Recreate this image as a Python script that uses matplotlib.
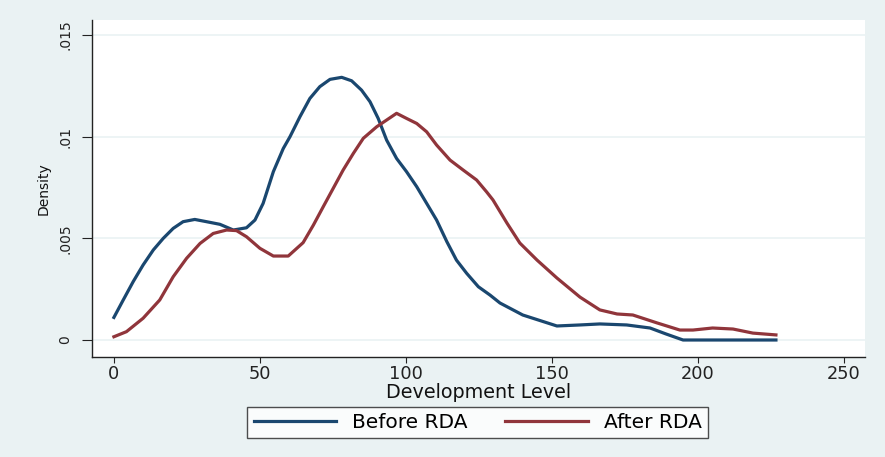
import numpy as np
import matplotlib
matplotlib.use("Agg")
import matplotlib.pyplot as plt

# kernel density curves
before_x = [0, 3.2, 6.6, 10.0, 13.5, 16.9, 20.3, 23.7, 27.7, 31.7, 36.3, 40.9, 45.4,
            48.3, 51.1, 54.6, 58, 60.3, 63.7, 67.1, 70.5, 74, 78, 81.4, 84.8, 87.7,
            90.5, 93.4, 96.8, 100.2, 103.7, 107.1, 110.5, 114, 117.3, 120.8, 124.8,
            128.8, 132.2, 140, 151.7, 159.6, 166.4, 175.6, 183.6, 189, 194.9, 226.7]
before_y = [.00111, .00197, .00287, .00369, .00443, .005, .00549, .00582, .00593,
            .00582, .00569, .00541, .00552, .0059, .00672, .00828, .00942, .01,
            .01098, .01188, .01246, .01282, .01292, .01275, .01229, .01172, .0109,
            .00983, .00893, .00828, .00754, .00672, .0059, .00484, .00393, .00328,
            .00262, .00221, .00182, .00123, .00069, .00074, .00079, .00074, .00059,
            .0003, .0, .0]

after_x = [0, 4.3, 10, 15.7, 20.3, 24.9, 29.5, 34, 38.6, 42, 45.4, 50, 54.6, 59.7,
           64.8, 68.3, 71.7, 75.1, 78.5, 82, 85.4, 90, 93.4, 96.8, 100.2, 103.7,
           107.1, 110.5, 115.1, 119.6, 124.2, 127.6, 129.8, 134.6, 139, 144.9,
           151.7, 159.6, 166.4, 172.3, 177.7, 186, 193.8, 198.3, 205, 212, 218.8,
           226.7]
after_y = [.00016, .00041, .00107, .00197, .00311, .00402, .00475, .00524, .00541,
           .00538, .00508, .00451, .00413, .00413, .00479, .00565, .00656, .00746,
           .00836, .00918, .00992, .01049, .01082, .01115, .0109, .01065, .01024,
           .00959, .00885, .00836, .00787, .00729, .00689, .00575, .00477, .00393,
           .00305, .00211, .00148, .00128, .00123, .00084, .00049, .00049, .00059,
           .00054, .00034, .00025]

x_ticks = [0, 50, 100, 150, 200, 250]
y_ticks = [0, 0.005, 0.01, 0.015]
y_tick_labels = ["0", ".005", ".01", ".015"]

bg = "#eaf2f3"
blue = "#1a476f"
red = "#90353b"

fig = plt.figure(figsize=(8.85, 4.57), dpi=100, facecolor=bg)
ax = fig.add_axes([92 / 885, 1 - 357 / 457, (865 - 92) / 885, (357 - 20) / 457])
ax.set_facecolor("white")

ax.plot(before_x, before_y, color=blue, lw=2.3, solid_joinstyle="round", label="Before RDA")
ax.plot(after_x, after_y, color=red, lw=2.3, solid_joinstyle="round", label="After RDA")

ax.set_xlim(-7.5, 257.2)
ax.set_ylim(-0.000836, 0.01574)

ax.set_xticks(x_ticks)
ax.set_yticks(y_ticks)
ax.set_yticklabels(y_tick_labels, rotation=90, va="center")
ax.tick_params(axis="x", labelsize=12.8, length=4, width=0.8, pad=2, colors="#222222")
ax.tick_params(axis="y", labelsize=10, length=7, width=0.8, pad=7, colors="#222222")
ax.grid(axis="y", color=bg, lw=1.2)
ax.set_axisbelow(True)

for side in ["top", "right"]:
    ax.spines[side].set_visible(False)
for side in ["left", "bottom"]:
    ax.spines[side].set_color("#222222")
    ax.spines[side].set_linewidth(1)

ax.set_xlabel("Development Level", fontsize=13.8, labelpad=0, color="#111111")
ax.set_ylabel("Density", fontsize=10, labelpad=6, color="#111111")

leg = fig.legend(loc="center", bbox_to_anchor=(477.5 / 885, 1 - 422.5 / 457), ncol=2,
                 fontsize=14.5, frameon=True, fancybox=False, edgecolor="#222222",
                 handlelength=4.1, handletextpad=0.8, columnspacing=1.85,
                 borderpad=0.3)
leg.get_frame().set_linewidth(1)
for line in leg.get_lines():
    line.set_linewidth(2.3)

fig.savefig("out.png", dpi=100, facecolor=bg)
